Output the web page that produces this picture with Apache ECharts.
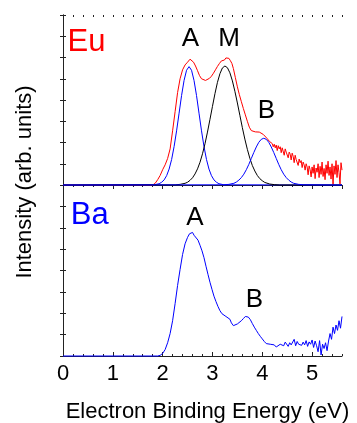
<!DOCTYPE html>
<html>
<head>
<meta charset="utf-8">
<script src="https://cdn.jsdelivr.net/npm/echarts@6/dist/echarts.min.js"></script>
<style>
  html, body { margin: 0; padding: 0; background: #fff; }
  #chart { width: 357px; height: 423px; }
</style>
</head>
<body>
<div id="chart"></div>
<script>
// Eu: measured total spectrum (red)
const euEnergy = [0, 1.80, 1.85, 1.90, 1.95, 2.00, 2.05, 2.10, 2.15, 2.20, 2.25, 2.30, 2.35, 2.40, 2.45, 2.50, 2.55, 2.58,
  2.62, 2.66, 2.70, 2.74, 2.78, 2.82, 2.86, 2.90, 2.94, 2.98, 3.02, 3.06, 3.10, 3.14, 3.18, 3.21, 3.24, 3.27, 3.30,
  3.33, 3.36, 3.39, 3.42, 3.46, 3.50, 3.54, 3.58, 3.62, 3.66, 3.70, 3.74, 3.78, 3.82, 3.86, 3.90, 3.94, 3.98, 4.02,
  4.06, 4.10, 4.14, 4.18,
  4.20, 4.22, 4.24, 4.26, 4.28, 4.30, 4.32, 4.34, 4.36, 4.38, 4.40, 4.42, 4.44, 4.46, 4.48, 4.50, 4.52, 4.54, 4.56,
  4.58, 4.60, 4.62, 4.64, 4.66, 4.68, 4.70, 4.72, 4.74, 4.76, 4.78, 4.80, 4.82, 4.84, 4.86, 4.88, 4.90, 4.92, 4.94,
  4.96, 4.98, 5.00, 5.02, 5.04, 5.06, 5.08, 5.10, 5.12, 5.14, 5.16, 5.18, 5.20, 5.22, 5.24, 5.26, 5.28, 5.30, 5.32,
  5.34, 5.36, 5.38, 5.40, 5.42, 5.44, 5.46, 5.48, 5.50, 5.52, 5.54, 5.56, 5.58, 5.60];
const euIntensity = [0, 0, 0.08, 0.25, 0.45, 0.72, 0.95, 1.25, 1.70, 2.55, 3.45, 4.35, 5.00, 5.42, 5.65, 5.78, 5.92, 5.90,
  5.78, 5.60, 5.38, 5.15, 5.00, 4.94, 4.92, 4.96, 5.02, 5.12, 5.26, 5.42, 5.58, 5.72, 5.84, 5.92, 5.88, 5.98, 5.92,
  5.96, 5.85, 5.72, 5.48, 5.05, 4.62, 4.25, 3.92, 3.60, 3.30, 3.00, 2.72, 2.56, 2.52, 2.50, 2.47, 2.49, 2.42, 2.38,
  2.30, 2.18, 2.06, 2.00,
  1.95, 1.80, 1.92, 1.75, 1.88, 1.62, 1.85, 1.70, 1.80, 1.52, 1.75, 1.68, 1.40, 1.70, 1.55, 1.62, 1.28, 1.55, 1.45,
  1.18, 1.50, 1.35, 1.05, 1.40, 1.20, 1.28, 0.92, 1.22, 1.05, 1.15, 0.82, 1.08, 0.95, 0.70, 1.00, 0.85, 0.48, 0.90,
  0.72, 0.38, 0.85, 0.55, 0.95, 0.30, 0.80, 0.60, 1.00, 0.35, 0.88, 0.50, 1.08, 0.40, 0.78, 0.25, 0.95, 0.55, 1.12,
  0.45, 0.85, 0.28, 1.00, 0.02, 0.90, 0.50, 1.15, 0.35, 0.95, 0.60, 0.05, 1.05, 0.70];

// fitted components
const peakAEnergy = [0, 1.83, 1.93, 1.98, 2.03, 2.08, 2.13, 2.18, 2.23, 2.28, 2.33, 2.38, 2.43, 2.48, 2.53, 2.58, 2.63,
  2.68, 2.73, 2.78, 2.83, 2.88, 2.93, 2.98, 3.03, 3.08, 3.13, 3.23, 5.6];
const peakAIntensity = [0, 0.01, 0.06, 0.13, 0.24, 0.44, 0.75, 1.20, 1.81, 2.55, 3.38, 4.21, 4.92, 5.40, 5.57, 5.40, 4.92,
  4.21, 3.38, 2.55, 1.81, 1.20, 0.75, 0.44, 0.24, 0.13, 0.06, 0.01, 0];

const peakMEnergy = [0, 2.25, 2.35, 2.45, 2.50, 2.55, 2.60, 2.65, 2.70, 2.75, 2.80, 2.85, 2.90, 2.95, 3.00, 3.05, 3.10,
  3.15, 3.20, 3.25, 3.30, 3.35, 3.40, 3.45, 3.50, 3.55, 3.60, 3.65, 3.70, 3.75, 3.80, 3.85, 3.90, 3.95, 4.00, 4.05,
  4.15, 4.25, 4.35, 5.6];
const peakMIntensity = [0, 0.01, 0.03, 0.08, 0.13, 0.22, 0.34, 0.52, 0.76, 1.07, 1.47, 1.94, 2.49, 3.09, 3.70, 4.30, 4.83,
  5.24, 5.51, 5.60, 5.52, 5.28, 4.90, 4.41, 3.86, 3.28, 2.70, 2.16, 1.68, 1.26, 0.92, 0.66, 0.45, 0.30, 0.20, 0.12,
  0.045, 0.015, 0, 0];

const peakBEnergy = [0, 3.23, 3.33, 3.43, 3.48, 3.53, 3.58, 3.63, 3.68, 3.73, 3.78, 3.83, 3.88, 3.93, 3.98, 4.03, 4.08,
  4.13, 4.18, 4.23, 4.28, 4.33, 4.38, 4.43, 4.48, 4.53, 4.58, 4.63, 4.73, 4.83, 5.6];
const peakBIntensity = [0, 0.01, 0.03, 0.08, 0.14, 0.23, 0.35, 0.51, 0.72, 0.97, 1.25, 1.53, 1.79, 2.01, 2.15, 2.20, 2.15,
  2.01, 1.79, 1.53, 1.25, 0.97, 0.72, 0.51, 0.35, 0.23, 0.14, 0.08, 0.03, 0.01, 0];

// Ba spectrum (blue)
const baEnergy = [0, 1.90, 1.95, 2.00, 2.05, 2.10, 2.15, 2.20, 2.25, 2.30, 2.35, 2.40, 2.45, 2.50, 2.54, 2.57, 2.60, 2.63,
  2.67, 2.71, 2.75, 2.79, 2.83, 2.87, 2.91, 2.95, 2.99, 3.03, 3.07, 3.11, 3.15, 3.19, 3.23, 3.27, 3.31, 3.35, 3.38,
  3.42, 3.46, 3.50, 3.54, 3.58, 3.62, 3.66, 3.69, 3.72, 3.76, 3.80, 3.84, 3.88, 3.92, 3.96, 4.00, 4.04, 4.08, 4.12,
  4.16, 4.20, 4.24, 4.28, 4.32, 4.36, 4.40, 4.43, 4.46, 4.49, 4.52, 4.55, 4.58, 4.61, 4.64, 4.67, 4.70, 4.73, 4.76,
  4.79, 4.82, 4.85, 4.88, 4.91, 4.94, 4.97, 5.00, 5.03, 5.06, 5.09, 5.12, 5.15, 5.18, 5.21, 5.24, 5.27, 5.30, 5.33,
  5.36, 5.39, 5.42, 5.45, 5.48, 5.51, 5.54, 5.57, 5.60];
const baIntensity = [0, 0, 0.03, 0.12, 0.30, 0.62, 1.05, 1.65, 2.45, 3.30, 4.05, 4.75, 5.25, 5.55, 5.72, 5.68, 5.78, 5.65,
  5.62, 5.42, 5.18, 4.92, 4.60, 4.20, 3.82, 3.45, 3.12, 2.80, 2.55, 2.32, 2.12, 1.98, 1.90, 1.85, 1.80, 1.72, 1.55,
  1.42, 1.40, 1.50, 1.58, 1.65, 1.75, 1.85, 1.88, 1.82, 1.70, 1.52, 1.35, 1.20, 1.05, 0.92, 0.80, 0.68, 0.58, 0.52,
  0.55, 0.48, 0.52, 0.42, 0.40, 0.55, 0.62, 0.48, 0.65, 0.58, 0.45, 0.62, 0.52, 0.58, 0.78, 0.48, 0.68, 0.55, 0.62,
  0.50, 0.65, 0.52, 0.72, 0.45, 0.66, 0.55, 0.75, 0.40, 0.70, 0.48, 0.20, 0.72, 0.05, 0.55, 0.35, 0.62, 0.25, 0.70,
  1.05, 0.78, 1.35, 1.05, 1.45, 1.20, 1.65, 1.30, 1.85];

const panelNames = ['Eu', 'Ba'];
const xTitle = 'Electron Binding Energy (eV)';
const yTitle = 'Intensity (arb. units)';

const FONT = "'Liberation Sans', Arial, sans-serif";
const AXIS_COLOR = '#222';

const zip = (xs, ys) => xs.map((x, i) => [x, ys[i]]);

function xAxis(gridIndex, position, opts) {
  const minor = opts.minor;
  return {
    type: 'value', gridIndex, position,
    min: 0, max: 5.6, interval: minor ? 0.2 : 1,
    axisLine: { show: !minor, lineStyle: { color: AXIS_COLOR, width: 1 } },
    axisTick: { show: opts.ticks, inside: true, length: minor ? 2 : 4, lineStyle: { color: AXIS_COLOR } },
    axisLabel: {
      show: !!opts.labels, showMaxLabel: false, margin: 7,
      fontSize: 22, fontFamily: FONT, color: '#000'
    },
    splitLine: { show: false }
  };
}

function yAxis(gridIndex, position) {
  return {
    type: 'value', gridIndex, position,
    min: 0, max: 8, interval: 1,
    axisLine: { show: true, lineStyle: { color: AXIS_COLOR, width: 1 } },
    axisTick: { show: true, inside: true, length: 3, lineStyle: { color: AXIS_COLOR } },
    axisLabel: { show: false },
    splitLine: { show: false }
  };
}

function line(name, xs, ys, color, xi, yi) {
  return {
    name, type: 'line', data: zip(xs, ys),
    xAxisIndex: xi, yAxisIndex: yi,
    showSymbol: false, symbol: 'none',
    lineStyle: { color, width: 1 },
    clip: false
  };
}

function label(text, x, y, size, color, align) {
  return {
    type: 'text', x, y, z: 100,
    style: { text, fill: color, fontSize: size, fontFamily: FONT, align: align || 'center', verticalAlign: 'middle' }
  };
}

const chart = echarts.init(document.getElementById('chart'), null, { renderer: 'canvas' });

chart.setOption({
  animation: false,
  backgroundColor: '#fff',
  grid: [
    { left: 63, top: 15, width: 279, height: 170 },
    { left: 63, top: 185, width: 279, height: 171 }
  ],
  xAxis: [
    xAxis(0, 'bottom', { ticks: false }),
    xAxis(0, 'top', { ticks: true }),
    xAxis(0, 'top', { ticks: true, minor: true }),
    xAxis(1, 'bottom', { ticks: true, labels: true }),
    xAxis(1, 'bottom', { ticks: true, minor: true }),
    xAxis(1, 'top', { ticks: true }),
    xAxis(1, 'top', { ticks: true, minor: true })
  ],
  yAxis: [
    yAxis(0, 'left'), yAxis(0, 'right'),
    yAxis(1, 'left'), yAxis(1, 'right')
  ],
  series: [
    line('Eu', euEnergy, euIntensity, '#ff0000', 0, 0),
    line('A', peakAEnergy, peakAIntensity, '#0000ff', 0, 0),
    line('M', peakMEnergy, peakMIntensity, '#000000', 0, 0),
    line('B', peakBEnergy, peakBIntensity, '#0000ff', 0, 0),
    line('Ba', baEnergy, baIntensity, '#0000ff', 3, 2)
  ],
  graphic: [
    label(panelNames[0], 67.6, 42.5, 31, '#ff0000', 'left'),
    label('A', 190.5, 38.8, 26, '#000'),
    label('M', 229, 38.8, 26, '#000'),
    label('B', 266.5, 111.2, 26, '#000'),
    label(panelNames[1], 70.7, 215.8, 31, '#0000ff', 'left'),
    label('A', 195, 217.5, 26, '#000'),
    label('B', 254.3, 300, 26, '#000'),
    label(xTitle, 207.5, 411.7, 22, '#000'),
    Object.assign(label(yTitle, 25, 182, 22, '#000'), { rotation: Math.PI / 2 })
  ]
});
</script>
</body>
</html>
